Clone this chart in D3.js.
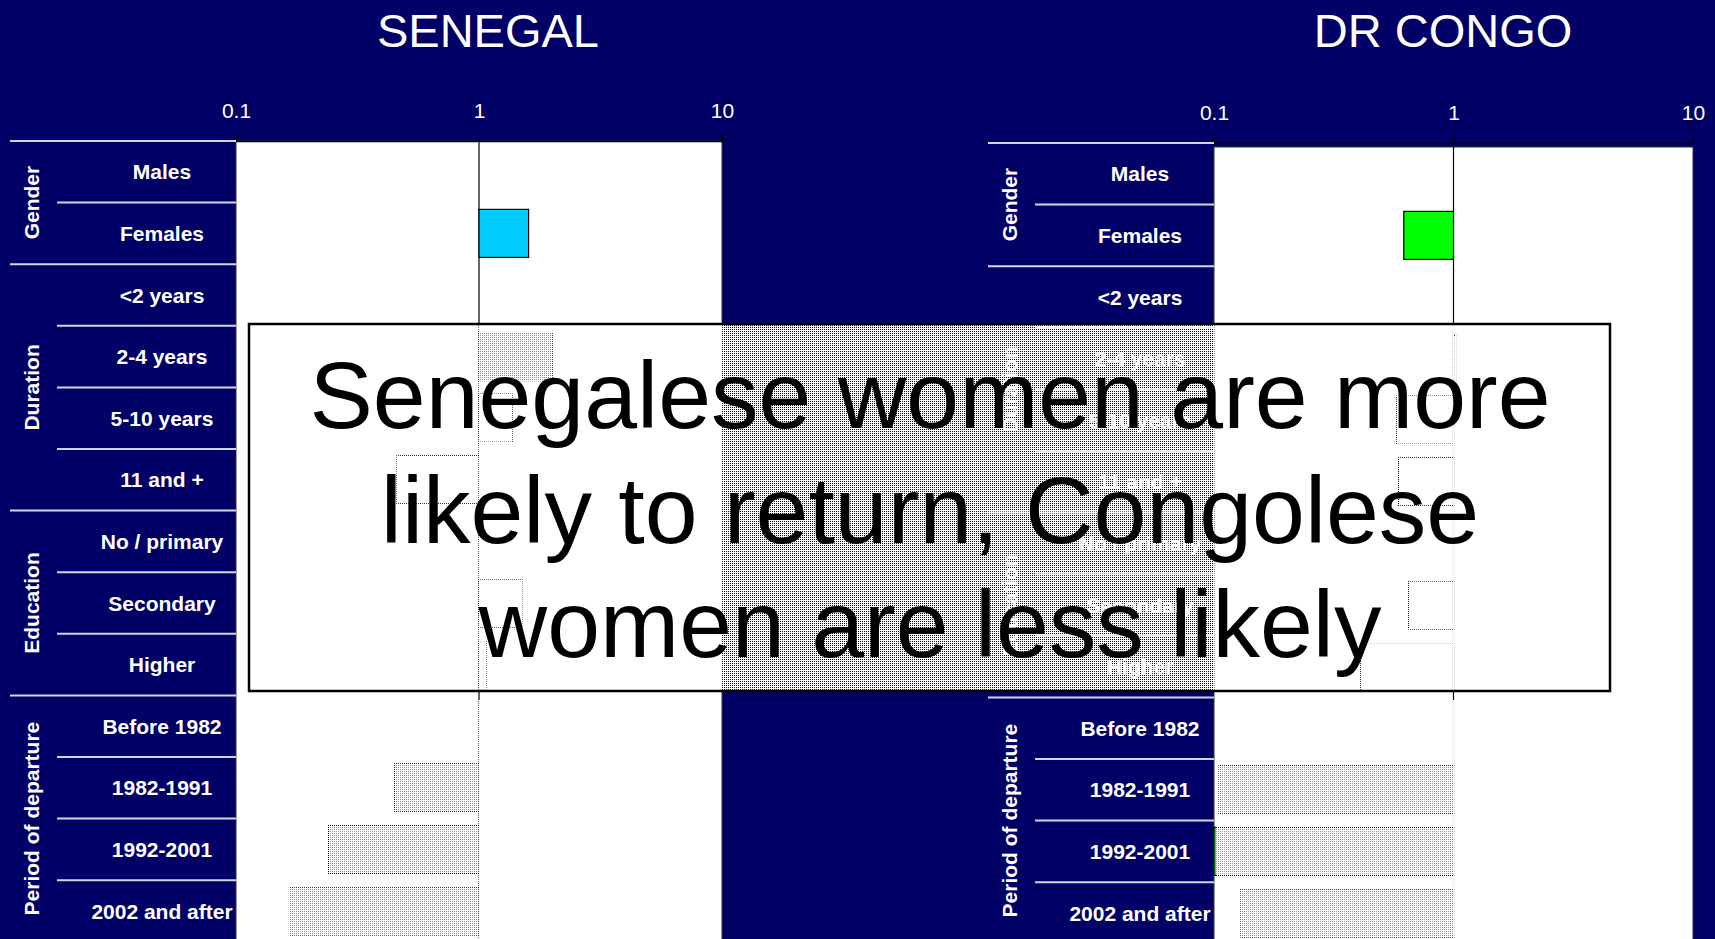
<!DOCTYPE html>
<html>
<head>
<meta charset="utf-8">
<script src="https://cdn.jsdelivr.net/npm/d3@7"></script>
<style>
    html, body { margin: 0; padding: 0; background: #000066; overflow: hidden; }
    svg { display: block; font-family: "Liberation Sans", Arial, sans-serif; }
</style>
</head>
<body>
<div id="chart"></div>
<script>
const categories = ["Males", "Females", "<2 years", "2-4 years", "5-10 years", "11 and +", "No / primary",
    "Secondary", "Higher", "Before 1982", "1982-1991", "1992-2001", "2002 and after"];
const groupNames = ["Gender", "Duration", "Education", "Period of departure"];
const groupSizes = [2, 4, 3, 4];
const tickValues = [0.1, 1, 10];

// odds ratios, null = reference category
const senegalOdds = [null, 1.6, null, 2.0, 1.38, 0.46, null, 1.5, 1.08, null, 0.45, 0.24, 0.166];
const senegalSignificant = [false, true, false, true, false, false, false, false, false, false, true, true, true];
const congoOdds = [null, 0.62, null, 1.02, 0.58, 0.59, null, 0.65, 0.41, null, 0.105, 0.09, 0.128];
const congoSignificant = [false, true, false, false, false, false, false, false, false, false, true, true, true];

const messageLines = ["Senegalese women are more", "likely to return, Congolese", "women are less likely"];

const width = 1715, height = 939;
const rowHeight = 61.6;

const svg = d3.select("#chart").append("svg")
    .attr("width", width)
    .attr("height", height);

svg.append("rect")
    .attr("width", width)
    .attr("height", height)
    .attr("fill", "#000066");

// dither pattern used for the faded areas (3 of 4 pixels white)
const defs = svg.append("defs");
const dither = defs.append("pattern")
    .attr("id", "dither")
    .attr("patternUnits", "userSpaceOnUse")
    .attr("width", 2)
    .attr("height", 2);
[[0, 0], [1, 0], [1, 1]].forEach(([px, py]) => {
    dither.append("rect")
        .attr("x", px).attr("y", py)
        .attr("width", 1).attr("height", 1)
        .attr("fill", "#ffffff");
});

const drawPanel = (cfg) => {
    const g = svg.append("g");

    g.append("text")
        .attr("x", cfg.titleX)
        .attr("y", 47)
        .attr("text-anchor", "middle")
        .style("font-size", "47px")
        .style("fill", "white")
        .text(cfg.title);

    const x = d3.scaleLog()
        .domain([0.1, 10])
        .range([cfg.left, cfg.right])
        .clamp(true);

    const y = d3.scaleBand()
        .domain(categories)
        .range([cfg.rowTop, cfg.rowTop + categories.length * rowHeight]);

    // plot area
    g.append("rect")
        .attr("x", cfg.left)
        .attr("y", cfg.plotTop)
        .attr("width", cfg.right - cfg.left)
        .attr("height", height - cfg.plotTop + 5)
        .attr("fill", "white")
        .attr("stroke", "#333")
        .attr("stroke-width", 1);

    // reference line at 1
    g.append("line")
        .attr("x1", x(1)).attr("x2", x(1))
        .attr("y1", cfg.axisY).attr("y2", height)
        .attr("stroke", "black")
        .attr("stroke-width", 1.2);

    const barData = categories.map((c, i) => ({ cat: c, value: cfg.values[i], sig: cfg.sig[i] }))
        .filter(d => d.value !== null);

    const barH = y.bandwidth() * 0.78;

    g.selectAll(".bar")
        .data(barData)
        .enter().append("rect")
        .attr("class", "bar")
        .attr("x", d => x(Math.min(d.value, 1)))
        .attr("y", d => y(d.cat) + (y.bandwidth() - barH) / 2)
        .attr("width", d => Math.abs(x(d.value) - x(1)))
        .attr("height", barH)
        .attr("fill", d => d.sig ? cfg.colour : "white")
        .attr("stroke", "black")
        .attr("stroke-width", 1.2);

    // top axis
    const axis = g.append("g")
        .attr("transform", `translate(0,${cfg.axisY})`)
        .call(d3.axisTop(x)
            .tickValues(tickValues)
            .tickFormat(d => d === 0.1 ? "0.1" : d3.format("d")(d))
            .tickSize(7)
            .tickPadding(16));

    axis.select(".domain").attr("stroke", "black").attr("stroke-width", 1.5);
    axis.selectAll(".tick line").attr("stroke", "black");
    axis.selectAll(".tick text")
        .style("fill", "white")
        .style("font-size", "21px")
        .style("font-family", "\"Liberation Sans\", Arial, sans-serif");

    // category labels
    g.selectAll(".cat-label")
        .data(categories)
        .enter().append("text")
        .attr("class", "cat-label")
        .attr("x", cfg.left - 74)
        .attr("y", d => y(d) + y.bandwidth() / 2)
        .attr("dy", "0.36em")
        .attr("text-anchor", "middle")
        .style("font-size", "21px")
        .style("font-weight", "bold")
        .style("fill", "white")
        .text(d => d);

    // separator lines and group labels
    let start = 0;
    groupNames.forEach((name, gi) => {
        const size = groupSizes[gi];
        for (let r = start; r < start + size; r++) {
            const yy = y(categories[r]);
            g.append("line")
                .attr("x1", r === start ? cfg.left - 226 : cfg.left - 179)
                .attr("x2", cfg.left)
                .attr("y1", yy).attr("y2", yy)
                .attr("stroke", "#d4d4e4")
                .attr("stroke-width", 2);
        }
        const yMid = y(categories[start]) + size * rowHeight / 2;
        g.append("text")
            .attr("transform", `translate(${cfg.left - 205},${yMid}) rotate(-90)`)
            .attr("dy", "0.36em")
            .attr("text-anchor", "middle")
            .style("font-size", "21px")
            .style("font-weight", "bold")
            .style("fill", "white")
            .text(name);
        start += size;
    });

    return g;
};

const panels = [
    { title: "SENEGAL", titleX: 488, left: 236, right: 722, axisY: 141, plotTop: 141, rowTop: 141,
      colour: "#00ccff", values: senegalOdds, sig: senegalSignificant },
    { title: "DR CONGO", titleX: 1443, left: 1214, right: 1693, axisY: 143, plotTop: 147, rowTop: 143,
      colour: "#00ff00", values: congoOdds, sig: congoSignificant }
];

panels.forEach(p => drawPanel(p));

// faded lower part of each plot
panels.forEach(p => {
    svg.append("rect")
        .attr("x", p.left + 2)
        .attr("y", 700)
        .attr("width", p.right - p.left - 25)
        .attr("height", height - 700)
        .attr("fill", "url(#dither)")
        .attr("shape-rendering", "crispEdges");
});

// message box
svg.append("rect")
    .attr("x", 249)
    .attr("y", 324)
    .attr("width", 1361)
    .attr("height", 367)
    .attr("fill", "url(#dither)")
    .attr("shape-rendering", "crispEdges");

svg.append("rect")
    .attr("x", 249)
    .attr("y", 324)
    .attr("width", 1361)
    .attr("height", 367)
    .attr("fill", "none")
    .attr("stroke", "black")
    .attr("stroke-width", 2.5);

svg.selectAll(".message")
    .data(messageLines)
    .enter().append("text")
    .attr("class", "message")
    .attr("x", 930)
    .attr("y", (d, i) => 428 + i * 114.5)
    .attr("text-anchor", "middle")
    .style("font-size", "95px")
    .style("fill", "black")
    .text(d => d);
</script>
</body>
</html>
